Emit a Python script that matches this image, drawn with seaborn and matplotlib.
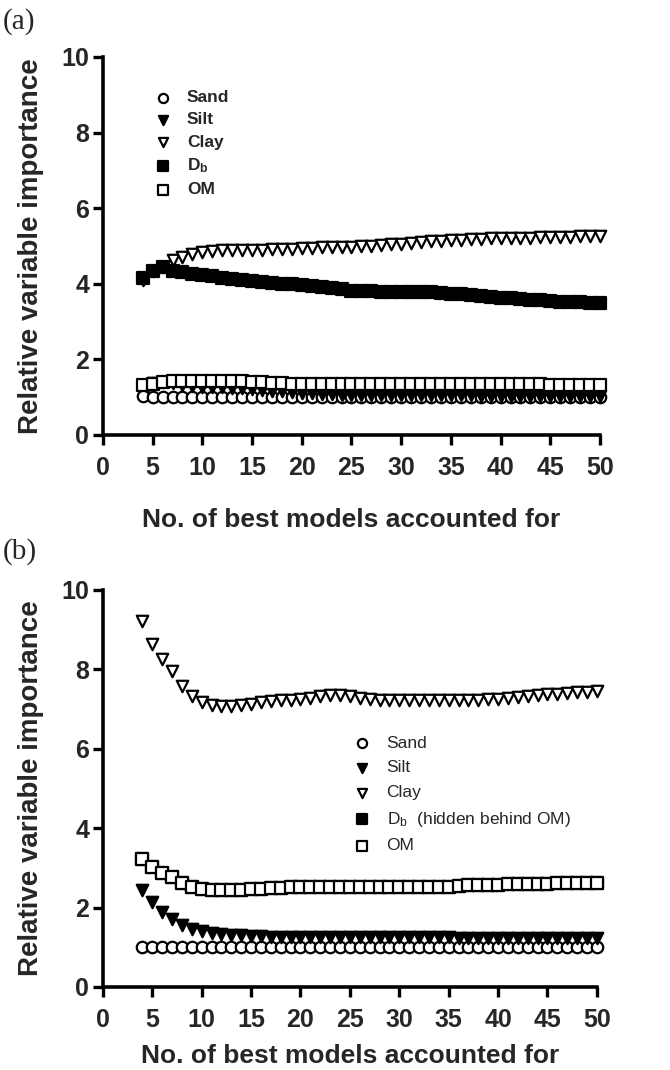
import matplotlib
matplotlib.use("Agg")
import matplotlib.pyplot as plt
import seaborn as sns

# Number of best models accounted for (x axis, shared by both panels)
n_models = list(range(4, 51))

# Panel (a) -- relative variable importance
sand_a = [1.02, 1.01, 1.01, 1.00, 1.00, 1.00, 1.00, 1.00, 1.00, 1.00, 1.00, 1.00,
          1.00, 1.00, 1.00, 1.00, 1.00, 1.00, 1.00, 1.00, 1.00, 1.00, 1.00, 1.00,
          1.00, 1.00, 1.00, 1.00, 1.00, 1.00, 1.00, 1.00, 1.00, 1.00, 1.00, 1.00,
          1.00, 1.00, 1.00, 1.00, 1.00, 1.00, 1.00, 1.00, 1.00, 1.00, 1.00]
silt_a = [4.10, 1.38, 1.39, 1.37, 1.33, 1.30, 1.28, 1.27, 1.26, 1.25, 1.23, 1.21,
          1.19, 1.17, 1.15, 1.13, 1.11, 1.10, 1.09, 1.08, 1.07, 1.06, 1.06, 1.05,
          1.05, 1.05, 1.05, 1.05, 1.05, 1.05, 1.05, 1.05, 1.05, 1.05, 1.04, 1.04,
          1.04, 1.04, 1.04, 1.04, 1.04, 1.04, 1.04, 1.04, 1.04, 1.04, 1.04]
clay_a = [4.16, 4.35, 4.44, 4.63, 4.72, 4.79, 4.84, 4.86, 4.88, 4.89, 4.89, 4.90,
          4.90, 4.91, 4.92, 4.93, 4.94, 4.95, 4.96, 4.97, 4.97, 4.98, 5.00, 5.01,
          5.02, 5.04, 5.05, 5.08, 5.10, 5.12, 5.14, 5.16, 5.17, 5.18, 5.19, 5.20,
          5.21, 5.21, 5.22, 5.22, 5.23, 5.23, 5.23, 5.24, 5.25, 5.26, 5.27]
db_a = [4.16, 4.35, 4.44, 4.35, 4.31, 4.26, 4.24, 4.20, 4.16, 4.12, 4.09, 4.06,
        4.04, 4.02, 4.00, 3.98, 3.96, 3.95, 3.91, 3.89, 3.85, 3.82, 3.80, 3.80,
        3.79, 3.78, 3.78, 3.78, 3.78, 3.77, 3.75, 3.74, 3.72, 3.69, 3.67, 3.65,
        3.63, 3.61, 3.60, 3.58, 3.56, 3.55, 3.53, 3.52, 3.51, 3.50, 3.49]
om_a = [1.32, 1.36, 1.39, 1.42, 1.43, 1.44, 1.44, 1.43, 1.43, 1.42, 1.42, 1.41,
        1.39, 1.38, 1.37, 1.36, 1.36, 1.35, 1.35, 1.35, 1.35, 1.35, 1.35, 1.35,
        1.35, 1.35, 1.34, 1.34, 1.34, 1.34, 1.34, 1.34, 1.34, 1.34, 1.34, 1.34,
        1.34, 1.34, 1.34, 1.34, 1.34, 1.33, 1.33, 1.33, 1.33, 1.33, 1.33]

# Panel (b) -- relative variable importance
sand_b = [1.00, 1.00, 1.00, 1.00, 1.00, 1.00, 1.00, 1.00, 1.00, 1.00, 1.00, 1.00,
          1.00, 1.00, 1.00, 1.00, 1.00, 1.00, 1.00, 1.00, 1.00, 1.00, 1.00, 1.00,
          1.00, 1.00, 1.00, 1.00, 1.00, 1.00, 1.00, 1.00, 1.00, 1.00, 1.00, 1.00,
          1.00, 1.00, 1.00, 1.00, 1.00, 1.00, 1.00, 1.00, 1.00, 1.00, 1.00]
silt_b = [2.45, 2.13, 1.90, 1.71, 1.57, 1.47, 1.40, 1.36, 1.33, 1.32, 1.30, 1.29,
          1.28, 1.27, 1.27, 1.27, 1.27, 1.26, 1.26, 1.26, 1.26, 1.26, 1.26, 1.26,
          1.26, 1.26, 1.26, 1.25, 1.25, 1.25, 1.25, 1.25, 1.24, 1.24, 1.24, 1.24,
          1.24, 1.24, 1.24, 1.24, 1.24, 1.24, 1.23, 1.23, 1.23, 1.23, 1.23]
clay_b = [9.22, 8.65, 8.25, 7.95, 7.57, 7.32, 7.18, 7.11, 7.08, 7.08, 7.10, 7.14,
          7.19, 7.20, 7.22, 7.24, 7.26, 7.29, 7.32, 7.35, 7.35, 7.33, 7.29, 7.26,
          7.24, 7.22, 7.22, 7.22, 7.22, 7.22, 7.22, 7.22, 7.22, 7.22, 7.23, 7.25,
          7.26, 7.28, 7.30, 7.32, 7.35, 7.37, 7.39, 7.41, 7.42, 7.43, 7.46]
om_b = [3.23, 3.02, 2.87, 2.76, 2.62, 2.53, 2.48, 2.45, 2.44, 2.44, 2.44, 2.47,
        2.48, 2.49, 2.49, 2.51, 2.52, 2.53, 2.53, 2.53, 2.53, 2.53, 2.53, 2.53,
        2.53, 2.53, 2.53, 2.53, 2.53, 2.53, 2.53, 2.53, 2.55, 2.57, 2.57, 2.57,
        2.57, 2.59, 2.59, 2.59, 2.59, 2.59, 2.61, 2.61, 2.61, 2.61, 2.62]
# D_b coincides with OM in this panel
db_b = [3.23, 3.02, 2.87, 2.76, 2.62, 2.53, 2.48, 2.45, 2.44, 2.44, 2.44, 2.47,
        2.48, 2.49, 2.49, 2.51, 2.52, 2.53, 2.53, 2.53, 2.53, 2.53, 2.53, 2.53,
        2.53, 2.53, 2.53, 2.53, 2.53, 2.53, 2.53, 2.53, 2.55, 2.57, 2.57, 2.57,
        2.57, 2.59, 2.59, 2.59, 2.59, 2.59, 2.61, 2.61, 2.61, 2.61, 2.62]

x_ticks = [0, 5, 10, 15, 20, 25, 30, 35, 40, 45, 50]
y_ticks = [0, 2, 4, 6, 8, 10]

sns.set_theme(style="white")
plt.rcParams["font.family"] = ["Liberation Sans", "DejaVu Sans"]
plt.rcParams["mathtext.fontset"] = "custom"
plt.rcParams["mathtext.rm"] = "Liberation Sans"
plt.rcParams["mathtext.bf"] = "Liberation Sans:bold"

marker_styles = [
    ("o", "white"),   # Sand
    ("v", "black"),   # Silt
    ("v", "white"),   # Clay
    ("s", "black"),   # D_b
    ("s", "white"),   # OM
]


def draw_panel(ax, series, labels, legend_anchor, legend_weight, spacing):
    for vals, lab, (mk, fc) in zip(series, labels, marker_styles):
        sns.scatterplot(x=n_models, y=vals, ax=ax, marker=mk, color=fc,
                        edgecolor="black", linewidth=1.6, s=68, label=lab,
                        clip_on=False, zorder=3)
    ax.set_xlim(0, 50)
    ax.set_ylim(0, 10)
    ax.set_xticks(x_ticks)
    ax.set_yticks(y_ticks)
    for side in ("top", "right"):
        ax.spines[side].set_visible(False)
    for side in ("left", "bottom"):
        ax.spines[side].set_linewidth(2.6)
        ax.spines[side].set_color("black")
    ax.tick_params(direction="out", length=7, width=2.4, color="black",
                   labelsize=18, bottom=True, left=True)
    ax.tick_params(axis="x", pad=8)
    ax.tick_params(axis="y", pad=3)
    for t in ax.get_xticklabels() + ax.get_yticklabels():
        t.set_fontweight("bold")
    ax.set_xlabel("No. of best models accounted for", fontsize=19,
                  fontweight="bold")
    ax.set_ylabel("Relative variable importance", fontsize=20,
                  fontweight="bold")
    ax.yaxis.label.set_va("center")
    ax.xaxis.label.set_va("center")
    ax.yaxis.set_label_coords(-0.145, 0.5)
    ax.legend(loc="upper left", bbox_to_anchor=legend_anchor, frameon=False,
              handletextpad=0.9, labelspacing=spacing, borderpad=0,
              handlelength=1.0, markerscale=0.8,
              prop={"size": 12.5, "weight": legend_weight})


fig = plt.figure(figsize=(6.7, 10.7), dpi=100)
ax_a = fig.add_axes([0.1537, 0.5935, 0.7418, 0.3533])
ax_b = fig.add_axes([0.1537, 0.0776, 0.7370, 0.3710])

draw_panel(ax_a, [sand_a, silt_a, clay_a, db_a, om_a],
           ["Sand", "Silt", "Clay", r"$\mathbf{D_b}$", "OM"],
           (0.085, 0.935), "bold", 0.4)
ax_a.xaxis.set_label_coords(0.5, -0.225)

draw_panel(ax_b, [sand_b, silt_b, clay_b, db_b, om_b],
           ["Sand", "Silt", "Clay", r"$\mathrm{D_b}$  (hidden behind OM)", "OM"],
           (0.49, 0.655), "normal", 0.55)
ax_b.xaxis.set_label_coords(0.5, -0.175)

fig.text(0.004, 1 - 22 / 1070, "(a)", family="Liberation Serif", fontsize=21,
         va="center", ha="left")
fig.text(0.004, 1 - 552 / 1070, "(b)", family="Liberation Serif", fontsize=21,
         va="center", ha="left")

fig.savefig("out.png", dpi=100)
